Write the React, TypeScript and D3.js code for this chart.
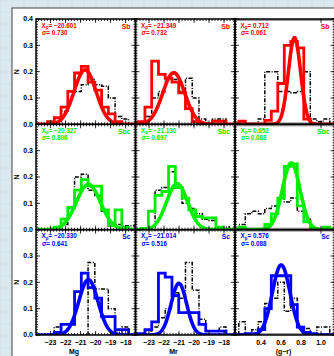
import React from 'react';
import * as d3 from 'd3';

// panel rows = galaxy type, columns = quantity
const galaxyTypes = ['Sb', 'Sbc', 'Sc'];
const typeColors = ['#ff0000', '#00ee00', '#0000ff'];
const xTitles = ['Mg', 'Mr', '(g\u2212r)'];
const xDomains = [[-23.97, -17.34], [-23.9, -17.27], [0.14, 1.135]];
const xTickValues = [[-23, -22, -21, -20, -19, -18], [-23, -22, -21, -20, -19, -18], [0.4, 0.6, 0.8, 1.0]];
const xTickFormats = ['d', 'd', '.1f'];
const yTickValues = [0, 0.1, 0.2, 0.3, 0.4];

// fit parameters printed in each panel
const fitX0 = [[-20.601, -21.349, 0.712], [-20.327, -21.13, 0.652], [-20.33, -21.014, 0.576]];
const fitSigma = [[0.73, 0.732, 0.061], [0.806, 0.697, 0.088], [0.641, 0.516, 0.088]];
// where the drawn curves peak
const curvePeakX = [[-20.7, -21.35, 0.735], [-20.48, -21.13, 0.702], [-20.48, -21.01, 0.602]];
const curvePeakN = [[0.207, 0.196, 0.329], [0.172, 0.175, 0.253], [0.21, 0.196, 0.266]];

// histograms
const binWidths = [0.45, 0.45, 0.065];
const binStarts = [[-23.2, -23.72, 0.178], [-23.2, -23.495, 0.178], [-23.2, -23.72, 0.178]];
const typeHist = [
  [
    [0.01, 0.025, 0.065, 0.125, 0.195, 0.22, 0.16, 0.13, 0.065, 0.04, 0.01],
    [0.01, 0.065, 0.24, 0.19, 0.175, 0.16, 0.12, 0.06, 0.01, 0, 0, 0.012, 0.012],
    [0.012, 0, 0, 0, 0.015, 0.05, 0.155, 0.3, 0.315, 0.29, 0.02],
  ],
  [
    [0, 0.01, 0.04, 0.085, 0.15, 0.19, 0.165, 0.165, 0.075, 0.015, 0.075, 0.01],
    [0.005, 0.07, 0.13, 0.145, 0.24, 0.16, 0.12, 0.075, 0.05, 0.045, 0.045, 0.01],
    [0.01, 0, 0, 0, 0.02, 0.06, 0.12, 0.24, 0.25, 0.09, 0.03, 0, 0, 0.01],
  ],
  [
    [0, 0.01, 0.04, 0.04, 0.165, 0.235, 0.18, 0.14, 0.07, 0.07, 0.02, 0.02],
    [0.005, 0.02, 0.05, 0.235, 0.22, 0.15, 0.085, 0.085, 0.085, 0.04, 0.015, 0.015, 0.015],
    [0, 0.005, 0.005, 0.02, 0.1, 0.225, 0.225, 0.225, 0.115, 0.03, 0.01, 0.005],
  ],
];
const allHist = [
  [
    [0, 0.01, 0.05, 0.125, 0.125, 0.15, 0.17, 0.15, 0.145, 0.1, 0.03, 0.02],
    [0.01, 0.03, 0.1, 0.125, 0.17, 0.17, 0.125, 0.175, 0.1, 0.02, 0, 0.02, 0.02],
    [0, 0, 0, 0.02, 0.2, 0.2, 0.125, 0.125, 0.12, 0.125, 0.2, 0.02, 0.01, 0.02],
  ],
  [
    [0, 0, 0.02, 0.08, 0.2, 0.21, 0.15, 0.13, 0.07, 0.025, 0.02, 0.015, 0.015],
    [0, 0.01, 0.15, 0.16, 0.22, 0.16, 0.1, 0.08, 0.06, 0.04, 0.035, 0.01, 0.01],
    [0.02, 0.06, 0.07, 0.06, 0.08, 0.09, 0.12, 0.105, 0.12, 0.07, 0.04, 0.005],
  ],
  [
    [0, 0.03, 0, 0, 0, 0, 0.275, 0.175, 0.175, 0.1, 0.01, 0.03],
    [0, 0.015, 0.03, 0.065, 0.1, 0.16, 0.14, 0.275, 0.17, 0.06, 0, 0, 0.03, 0],
    [0.05, 0.005, 0.02, 0.05, 0.12, 0.14, 0.2, 0.09, 0.14, 0.03, 0.025, 0, 0.03, 0.03],
  ],
];

const W = 334;
const H = 356;
const plotLeft = 36;
const plotTop = 19;
const colW = 99.5;
const rowH = 105.33;
const titleOffsets = [38, 38, 48.5];
const minorSteps = [0.2, 0.2, 0.02];
const font = '"Liberation Sans", Arial, sans-serif';

const stepPoints = (start, w, hs) => {
  const pts = [[start, 0]];
  hs.forEach((h, i) => {
    pts.push([start + i * w, h]);
    pts.push([start + (i + 1) * w, h]);
  });
  pts.push([start + hs.length * w, 0]);
  return pts;
};

const fmtVal = (v) => v.toFixed(3).padStart(8, ' ').replace('-', '\u2212');

const range = (a, b, step) => {
  const out = [];
  for (let v = Math.ceil(a / step - 1e-6) * step; v <= b + 1e-9; v += step) out.push(v);
  return out;
};

const Panel = ({r, c}) => {
  const x0 = plotLeft + c * colW;
  const y0 = plotTop + r * rowH;
  const xs = d3.scaleLinear().domain(xDomains[c]).range([x0, x0 + colW]);
  const ys = d3.scaleLinear().domain([0, 0.4]).range([y0 + rowH, y0]);
  const line = d3.line().x((d) => xs(d[0])).y((d) => ys(d[1]));
  const color = typeColors[r];
  const clipId = `clip-${r}-${c}`;

  const [d0, d1] = xDomains[c];
  const gauss = d3.range(0, 241).map((i) => {
    const x = d0 + ((d1 - d0) * i) / 240;
    const z = (x - curvePeakX[r][c]) / fitSigma[r][c];
    return [x, curvePeakN[r][c] * Math.exp(-0.5 * z * z)];
  });

  const xMajor = range(Math.ceil(d0), d1, c === 2 ? 0.2 : 1);
  const xMinor = range(d0, d1, minorSteps[c]);
  const yMinor = range(0, 0.4, 0.01);
  const bottom = y0 + rowH;
  const right = x0 + colW;

  return (
    <g>
      <clipPath id={clipId}>
        <rect x={x0} y={y0} width={colW} height={rowH} />
      </clipPath>
      <g clipPath={`url(#${clipId})`}>
        <path
          d={line(stepPoints(binStarts[r][c], binWidths[c], allHist[r][c]))}
          fill="none"
          stroke="#000"
          strokeWidth={1.5}
          strokeDasharray="4,1.5,1,1.5"
        />
        <path
          d={line(stepPoints(binStarts[r][c], binWidths[c], typeHist[r][c]))}
          fill="none"
          stroke={color}
          strokeWidth={2.8}
        />
        <path d={line(gauss)} fill="none" stroke={color} strokeWidth={3.6} />
      </g>
      <g stroke="#000" strokeWidth={0.8}>
        {xMinor.map((v, i) => (
          <g key={'xm' + i}>
            <line x1={xs(v)} x2={xs(v)} y1={bottom} y2={bottom - 2} />
            <line x1={xs(v)} x2={xs(v)} y1={y0} y2={y0 + 2} />
          </g>
        ))}
        {xMajor.map((v, i) => (
          <g key={'xM' + i}>
            <line x1={xs(v)} x2={xs(v)} y1={bottom} y2={bottom - 4} />
            <line x1={xs(v)} x2={xs(v)} y1={y0} y2={y0 + 4} />
          </g>
        ))}
        {yMinor.map((v, i) => (
          <g key={'ym' + i}>
            <line x1={x0} x2={x0 + 2} y1={ys(v)} y2={ys(v)} />
            <line x1={right} x2={right - 2} y1={ys(v)} y2={ys(v)} />
          </g>
        ))}
        {yTickValues.map((v, i) => (
          <g key={'yM' + i}>
            <line x1={x0} x2={x0 + 4} y1={ys(v)} y2={ys(v)} />
            <line x1={right} x2={right - 4} y1={ys(v)} y2={ys(v)} />
          </g>
        ))}
      </g>
      <rect x={x0} y={y0} width={colW} height={rowH} fill="none" stroke="#000" strokeWidth={1.5} />
      <g fill={color} fontFamily={font} fontWeight="bold" style={{whiteSpace: 'pre'}}>
        <text x={x0 + 5.5} y={y0 + 8.5} fontSize={6.3}>
          X<tspan fontSize={4.5} dy={1.5}>p</tspan>
          <tspan dy={-1.5}>{'=' + fmtVal(fitX0[r][c])}</tspan>
        </text>
        <text x={x0 + 6} y={y0 + 16} fontSize={6.3}>
          {'\u03c3=' + fmtVal(fitSigma[r][c])}
        </text>
        <text x={right - 5} y={y0 + 9.5} fontSize={6.8} textAnchor="end">
          {galaxyTypes[r]}
        </text>
      </g>
    </g>
  );
};

export default function App() {
  const grid = d3.range(0, Math.max(W, H) + 12, 12);
  return (
    <svg width={W} height={H} style={{position: 'absolute', left: 0, top: 0}}>
      <rect width={W} height={H} fill="#dce8ef" />
      {grid.map((g) => (
        <g key={g} stroke="#c9dbe5" strokeWidth={0.6}>
          <line x1={g} x2={g} y1={0} y2={H} />
          <line x1={0} x2={W} y1={g} y2={g} />
        </g>
      ))}
      <rect x={12} y={8} width={W} height={H} fill="#fff" stroke="#444" strokeWidth={1} />
      {galaxyTypes.map((t, r) =>
        xTitles.map((x, c) => <Panel key={`${r}-${c}`} r={r} c={c} />)
      )}
      {galaxyTypes.map((t, r) => {
        const ys = d3.scaleLinear().domain([0, 0.4]).range([plotTop + (r + 1) * rowH, plotTop + r * rowH]);
        const labels = r === 0 ? yTickValues : yTickValues.slice(0, 4);
        return (
          <g key={'y' + r} fontFamily={font} fontSize={7} fontWeight="bold">
            {labels.map((v) => (
              <text key={v} x={33} y={ys(v)} dy="0.35em" textAnchor="end">
                {d3.format('.1f')(v)}
              </text>
            ))}
            <text
              transform={`translate(19,${plotTop + r * rowH + rowH / 2}) rotate(-90)`}
              textAnchor="middle"
              fontSize={7}
            >
              N
            </text>
          </g>
        );
      })}
      {xTitles.map((title, c) => {
        const x0 = plotLeft + c * colW;
        const xs = d3.scaleLinear().domain(xDomains[c]).range([x0, x0 + colW]);
        const f = d3.format(xTickFormats[c]);
        return (
          <g key={'x' + c} fontFamily={font} fontSize={7} fontWeight="bold">
            {xTickValues[c].map((v) => (
              <text key={v} x={xs(v)} y={345} textAnchor="middle">
                {f(v)}
              </text>
            ))}
            <text x={x0 + titleOffsets[c]} y={353.5} textAnchor="middle">
              {title}
            </text>
          </g>
        );
      })}
    </svg>
  );
}
